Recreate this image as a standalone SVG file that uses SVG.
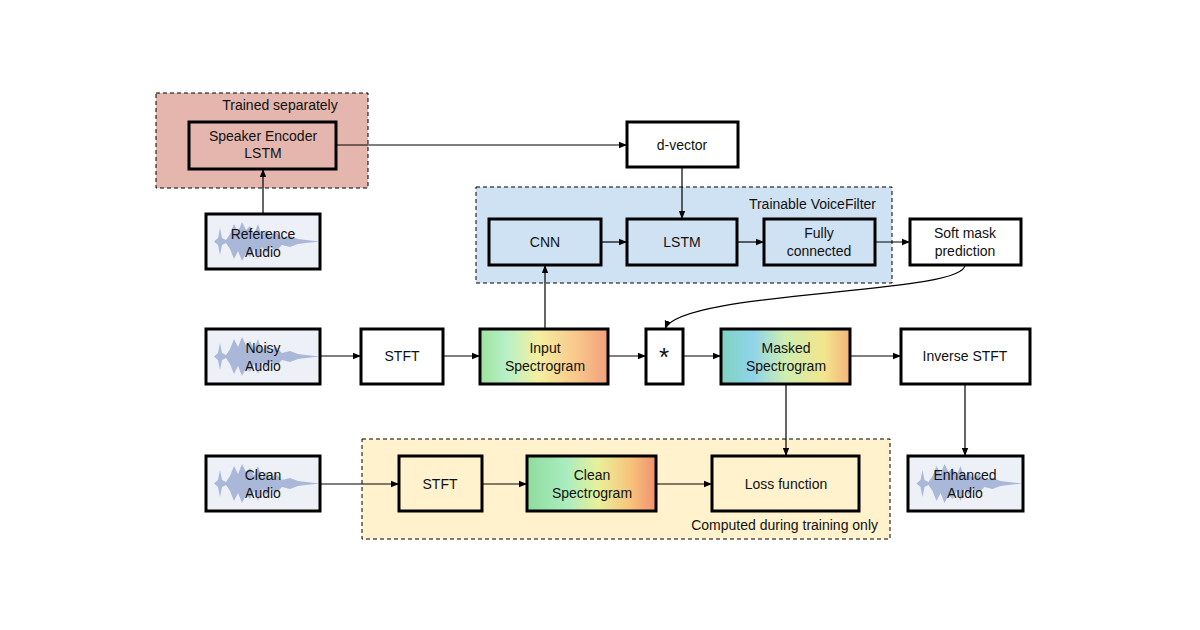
<svg xmlns="http://www.w3.org/2000/svg" width="1200" height="630" viewBox="0 0 1200 630">
<style>
text{font-family:"Liberation Sans",Arial,sans-serif;font-size:14px;fill:#111;text-anchor:middle}
.n{stroke:#000;stroke-width:3;fill:#fff}
.r{stroke:#000;stroke-width:1;stroke-dasharray:4 3}
.c{stroke:#000;stroke-width:1.2;fill:none;marker-end:url(#a)}
.w{fill:#a9b8d8}
</style>
<defs>
<marker id="a" viewBox="0 0 10 10" refX="10" refY="5" markerWidth="7" markerHeight="7" orient="auto"><path d="M0,1 L10,5 L0,9 z" fill="#000"/></marker>
<linearGradient id="s1" x1="0" x2="1" y1="0" y2="0"><stop offset="0" stop-color="#9fe39a"/><stop offset="0.2" stop-color="#b6f0c8"/><stop offset="0.45" stop-color="#f4efa0"/><stop offset="0.75" stop-color="#f8c88c"/><stop offset="1" stop-color="#f2a07c"/></linearGradient>
<linearGradient id="s2" x1="0" x2="1" y1="0" y2="0"><stop offset="0" stop-color="#7fd3c0"/><stop offset="0.25" stop-color="#8fd4ea"/><stop offset="0.5" stop-color="#cfeeb0"/><stop offset="0.8" stop-color="#f2e58c"/><stop offset="1" stop-color="#f4b47c"/></linearGradient>
<linearGradient id="s3" x1="0" x2="1" y1="0" y2="0"><stop offset="0" stop-color="#8fdc9c"/><stop offset="0.3" stop-color="#a8ecc0"/><stop offset="0.55" stop-color="#e8f09a"/><stop offset="0.8" stop-color="#f8c47c"/><stop offset="1" stop-color="#f09070"/></linearGradient>
<symbol id="wave" viewBox="0 0 114 55"><rect width="114" height="55" fill="#eef0f8"/><path class="w" d="M0,27.5 H8 L12,24 L14,14 L16,24 L20,26 L24,20 L28,10 L32,18 L36,8 L40,16 L44,12 L48,20 L52,10 L56,22 L60,16 L64,22 L70,18 L76,24 L84,22 L92,25 L100,26 L114,27.5 L100,29 L92,30 L84,33 L76,31 L70,37 L64,33 L60,39 L56,33 L52,45 L48,35 L44,43 L40,39 L36,47 L32,37 L28,45 L24,35 L20,29 L16,31 L14,41 L12,31 L8,27.5 Z"/></symbol>
</defs>

<g id="region-trained"><rect x="156" y="93" width="212" height="95" fill="#e5b6ad" class="r"/><text x="280" y="110">Trained separately</text></g>
<g id="region-voicefilter"><rect x="476" y="187" width="416" height="96" fill="#cfe2f3" class="r"/><text x="876" y="209" style="text-anchor:end">Trainable VoiceFilter</text></g>
<g id="region-training"><rect x="362" y="439" width="528" height="100" fill="#fff2cc" class="r"/><text x="878" y="530" style="text-anchor:end">Computed during training only</text></g>

<g id="connectors">
<path class="c" d="M336,145 H627"/>
<path class="c" d="M263,214 V169"/>
<path class="c" d="M682,167 V219"/>
<path class="c" d="M601,242 H627"/>
<path class="c" d="M737,242 H764"/>
<path class="c" d="M875,242 H910"/>
<path class="c" d="M545,329 V265"/>
<path class="c" d="M965,265 C965,295 680,290 665,329"/>
<path class="c" d="M320,356 H361"/>
<path class="c" d="M443,356 H480"/>
<path class="c" d="M608,356 H646"/>
<path class="c" d="M683,356 H721"/>
<path class="c" d="M850,356 H901"/>
<path class="c" d="M786,384 V456"/>
<path class="c" d="M965,384 V456"/>
<path class="c" d="M320,484 H399"/>
<path class="c" d="M482,484 H527"/>
<path class="c" d="M656,484 H712"/>
</g>

<g id="speaker-encoder"><rect x="189" y="122" width="147" height="47" class="n" fill="#e5b6ad" style="fill:#e5b6ad"/><text x="263" y="141">Speaker Encoder</text><text x="263" y="158">LSTM</text></g>
<g id="d-vector"><rect x="627" y="122" width="111" height="45" class="n"/><text x="682" y="150">d-vector</text></g>
<g id="cnn"><rect x="489" y="219" width="112" height="46" class="n" style="fill:#cfe2f3"/><text x="545" y="247">CNN</text></g>
<g id="lstm"><rect x="627" y="219" width="110" height="46" class="n" style="fill:#cfe2f3"/><text x="682" y="247">LSTM</text></g>
<g id="fc"><rect x="764" y="219" width="111" height="46" class="n" style="fill:#cfe2f3"/><text x="819" y="238">Fully</text><text x="819" y="256">connected</text></g>
<g id="soft-mask"><rect x="910" y="219" width="111" height="46" class="n"/><text x="965" y="238">Soft mask</text><text x="965" y="256">prediction</text></g>
<g id="reference-audio"><use href="#wave" x="206" y="214" width="114" height="55"/><rect x="206" y="214" width="114" height="55" class="n" style="fill:none"/><text x="263" y="239">Reference</text><text x="263" y="257">Audio</text></g>
<g id="noisy-audio"><use href="#wave" x="206" y="329" width="114" height="55"/><rect x="206" y="329" width="114" height="55" class="n" style="fill:none"/><text x="263" y="353">Noisy</text><text x="263" y="371">Audio</text></g>
<g id="stft1"><rect x="361" y="329" width="82" height="55" class="n"/><text x="402" y="361">STFT</text></g>
<g id="input-spec"><rect x="480" y="329" width="128" height="55" class="n" style="fill:url(#s1)"/><text x="545" y="353">Input</text><text x="545" y="371">Spectrogram</text></g>
<g id="multiply"><rect x="646" y="329" width="37" height="55" class="n"/><text x="664" y="366" style="font-size:26px">*</text></g>
<g id="masked-spec"><rect x="721" y="329" width="129" height="55" class="n" style="fill:url(#s2)"/><text x="786" y="353">Masked</text><text x="786" y="371">Spectrogram</text></g>
<g id="inverse-stft"><rect x="901" y="329" width="129" height="55" class="n"/><text x="965" y="361">Inverse STFT</text></g>
<g id="clean-audio"><use href="#wave" x="206" y="456" width="114" height="55"/><rect x="206" y="456" width="114" height="55" class="n" style="fill:none"/><text x="263" y="480">Clean</text><text x="263" y="498">Audio</text></g>
<g id="stft2"><rect x="399" y="456" width="83" height="55" class="n" style="fill:#fff2cc"/><text x="440" y="489">STFT</text></g>
<g id="clean-spec"><rect x="527" y="456" width="129" height="55" class="n" style="fill:url(#s3)"/><text x="592" y="480">Clean</text><text x="592" y="498">Spectrogram</text></g>
<g id="loss"><rect x="712" y="456" width="147" height="55" class="n" style="fill:#fff2cc"/><text x="786" y="489">Loss function</text></g>
<g id="enhanced-audio"><use href="#wave" x="908" y="456" width="115" height="55"/><rect x="908" y="456" width="115" height="55" class="n" style="fill:none"/><text x="965" y="480">Enhanced</text><text x="965" y="498">Audio</text></g>
</svg>
